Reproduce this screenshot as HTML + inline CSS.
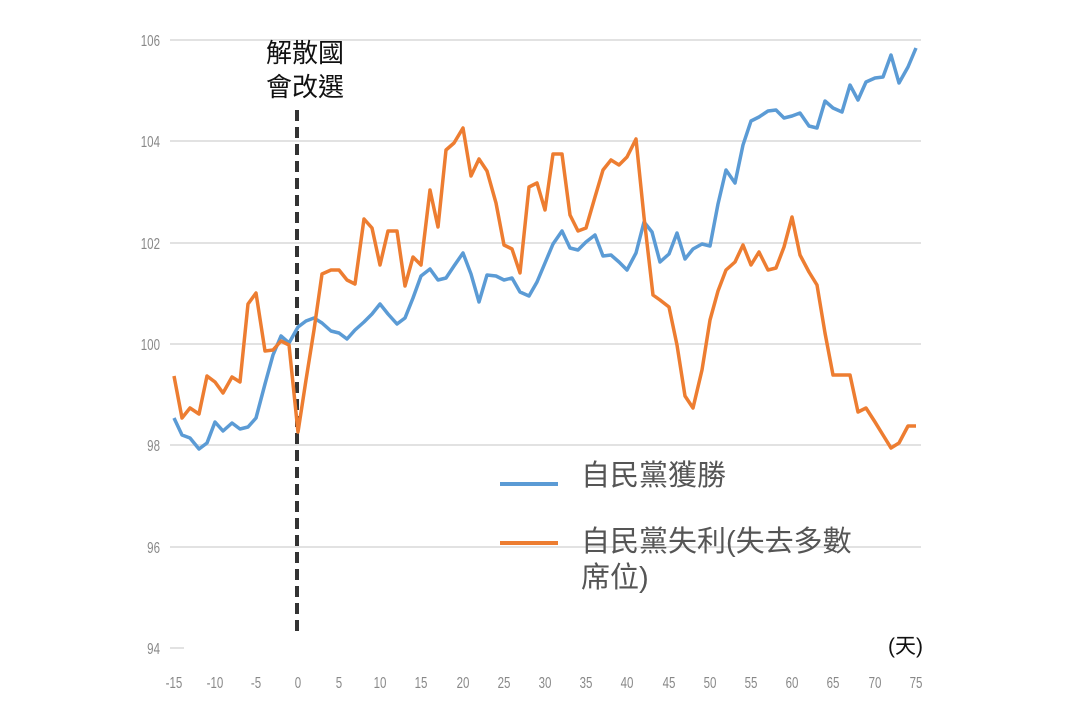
<!DOCTYPE html><html><head><meta charset="utf-8"><style>body{margin:0;background:#fff}svg text{font-family:"Liberation Sans","Noto Sans CJK TC",sans-serif}</style></head><body>
<svg width="1077" height="718" viewBox="0 0 1077 718" xmlns="http://www.w3.org/2000/svg">
<g stroke="#e2e2e2" stroke-width="2">
<line x1="170" x2="921" y1="40" y2="40"/><line x1="170" x2="921" y1="141" y2="141"/><line x1="170" x2="921" y1="243" y2="243"/><line x1="170" x2="921" y1="344" y2="344"/><line x1="170" x2="921" y1="445" y2="445"/><line x1="170" x2="921" y1="547" y2="547"/><line x1="170" x2="184" y1="648" y2="648"/>
</g>
<g fill="#888" font-size="16" text-anchor="end">
<text transform="translate(160,46) scale(0.72,1)">106</text><text transform="translate(160,147) scale(0.72,1)">104</text><text transform="translate(160,249) scale(0.72,1)">102</text><text transform="translate(160,350) scale(0.72,1)">100</text><text transform="translate(160,451) scale(0.72,1)">98</text><text transform="translate(160,553) scale(0.72,1)">96</text><text transform="translate(160,654) scale(0.72,1)">94</text>
</g>
<g fill="#888" font-size="16" text-anchor="middle">
<text transform="translate(174,688) scale(0.72,1)">-15</text><text transform="translate(215,688) scale(0.72,1)">-10</text><text transform="translate(256,688) scale(0.72,1)">-5</text><text transform="translate(298,688) scale(0.72,1)">0</text><text transform="translate(339,688) scale(0.72,1)">5</text><text transform="translate(380,688) scale(0.72,1)">10</text><text transform="translate(421,688) scale(0.72,1)">15</text><text transform="translate(463,688) scale(0.72,1)">20</text><text transform="translate(504,688) scale(0.72,1)">25</text><text transform="translate(545,688) scale(0.72,1)">30</text><text transform="translate(586,688) scale(0.72,1)">35</text><text transform="translate(627,688) scale(0.72,1)">40</text><text transform="translate(669,688) scale(0.72,1)">45</text><text transform="translate(710,688) scale(0.72,1)">50</text><text transform="translate(751,688) scale(0.72,1)">55</text><text transform="translate(792,688) scale(0.72,1)">60</text><text transform="translate(833,688) scale(0.72,1)">65</text><text transform="translate(875,688) scale(0.72,1)">70</text><text transform="translate(916,688) scale(0.72,1)">75</text>
</g>
<line x1="297" x2="297" y1="110" y2="636" stroke="#333" stroke-width="4" stroke-dasharray="11,6"/>
<polyline fill="none" stroke="#5b9bd5" stroke-width="3.5" stroke-linejoin="round" points="174,418 182,435 190,438 199,449 207,443 215,422 223,431 232,423 240,429 248,427 256,418 265,384 273,355 281,336 289,343 298,327 306,321 314,318 322,323 331,331 339,333 347,339 355,330 364,322 372,314 380,304 388,314 397,324 405,318 413,298 421,276 430,269 438,280 446,278 454,266 463,253 471,274 479,302 487,275 496,276 504,280 512,278 520,292 529,296 537,282 545,263 553,244 562,231 570,248 578,250 586,242 595,235 603,256 611,255 619,262 627,270 636,253 644,222 652,232 660,262 669,254 677,233 685,259 693,249 702,244 710,246 718,204 726,170 735,183 743,145 751,121 759,117 768,111 776,110 784,118 792,116 800,113 809,126 817,128 825,101 833,108 842,112 850,85 858,100 866,82 875,78 883,77 891,55 899,83 908,67 916,48"/>
<polyline fill="none" stroke="#ed7d31" stroke-width="3.5" stroke-linejoin="round" points="174,376 182,418 190,408 199,414 207,376 215,382 223,393 232,377 240,382 248,304 256,293 265,351 273,350 281,341 289,345 298,432 306,380 314,330 322,274 331,270 339,270 347,280 355,284 364,219 372,228 380,265 388,231 397,231 405,286 413,257 421,265 430,190 438,227 446,150 454,143 463,128 471,176 479,159 487,171 496,203 504,245 512,249 520,273 529,187 537,183 545,210 553,154 562,154 570,215 578,231 586,228 595,197 603,170 611,160 619,165 627,157 636,139 644,217 653,295 660,300 669,307 677,345 685,396 693,408 702,370 710,320 718,291 726,270 735,262 743,245 751,265 759,252 768,270 776,268 784,247 792,217 800,255 809,272 817,285 825,333 833,375 842,375 850,375 858,412 866,408 875,422 883,435 891,448 899,443 908,426 916,426"/>
<g font-size="26" fill="#111" text-anchor="middle"><text x="305" y="62">解散國</text><text x="305" y="96">會改選</text></g>
<line x1="500" x2="558" y1="484" y2="484" stroke="#5b9bd5" stroke-width="4"/>
<line x1="500" x2="558" y1="543" y2="543" stroke="#ed7d31" stroke-width="4"/>
<g font-size="29" fill="#555"><text x="581" y="485">自民黨獲勝</text><text x="581" y="551">自民黨失利(失去多數</text><text x="581" y="587">席位)</text></g>
<text x="888" y="653" font-size="21" fill="#111">(天)</text>
</svg></body></html>
